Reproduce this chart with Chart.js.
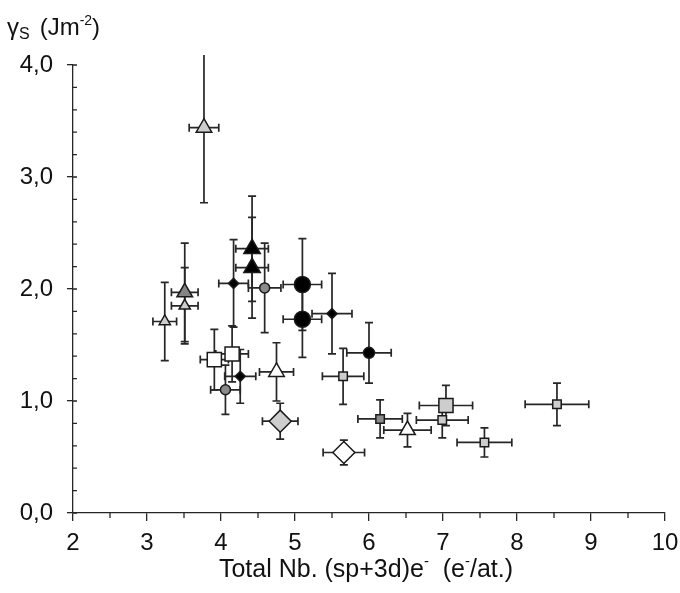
<!DOCTYPE html>
<html>
<head>
<meta charset="utf-8">
<script src="https://cdn.jsdelivr.net/npm/chart.js@4"></script>
<style>
  html, body { margin: 0; padding: 0; background: #fff; }
</style>
</head>
<body>
<canvas id="myChart" width="680" height="593"></canvas>
<script>
// measured points: x = total nb of (sp+3d) electrons, y = surface energy
const ptX   = [3.77, 3.24, 3.51, 3.51, 4.42, 4.42, 4.17, 5.50, 4.26, 4.59, 4.06, 5.10, 5.10, 6.00, 5.65, 6.99, 7.56, 8.54, 7.04, 6.15, 3.91, 4.15, 4.75, 6.52, 4.80, 5.66];
const ptY   = [3.44, 1.71, 1.85, 1.97, 2.36, 2.19, 2.05, 1.78, 1.22, 2.01, 1.10, 2.04, 1.73, 1.43, 1.22, 0.83, 0.63, 0.97, 0.96, 0.84, 1.37, 1.42, 1.26, 0.74, 0.82, 0.54];
const errX  = [0.20, 0.16, 0.18, 0.18, 0.22, 0.22, 0.20, 0.27, 0.21, 0.22, 0.20, 0.26, 0.26, 0.30, 0.28, 0.35, 0.37, 0.43, 0.36, 0.30, 0.19, 0.22, 0.23, 0.32, 0.24, 0.28];
const errY  = [0.67, 0.35, 0.34, 0.44, 0.47, 0.45, 0.39, 0.36, 0.24, 0.40, 0.22, 0.41, 0.34, 0.27, 0.25, 0.16, 0.13, 0.19, 0.18, 0.17, 0.27, 0.25, 0.26, 0.15, 0.16, 0.11];
const ptGroup = [0, 1, 1, 2, 3, 3, 4, 4, 4, 5, 5, 6, 6, 7, 8, 8, 8, 8, 9, 10, 11, 11, 12, 12, 13, 14];
const groupNames = ['grey triangle (large)', 'grey triangle', 'dark triangle', 'black triangle',
  'black diamond', 'grey circle', 'black circle (large)', 'black circle', 'grey square',
  'grey square (large)', 'dark square', 'white square', 'white triangle', 'grey diamond', 'white diamond'];

// marker look for each group
const markerStyle = [
  { shape: 'triangle', r: 9,   fill: '#cdcdcd' },
  { shape: 'triangle', r: 6.5, fill: '#cdcdcd' },
  { shape: 'triangle', r: 9,   fill: '#858585' },
  { shape: 'triangle', r: 9.5, fill: '#000000' },
  { shape: 'rectRot',  r: 5,   fill: '#000000' },
  { shape: 'circle',   r: 5,   fill: '#8a8a8a' },
  { shape: 'circle',   r: 8,   fill: '#000000' },
  { shape: 'circle',   r: 5.5, fill: '#000000' },
  { shape: 'rect',     r: 6,   fill: '#cdcdcd' },
  { shape: 'rect',     r: 10,  fill: '#cdcdcd' },
  { shape: 'rect',     r: 6,   fill: '#8a8a8a' },
  { shape: 'rect',     r: 10,  fill: '#ffffff' },
  { shape: 'triangle', r: 9,   fill: '#ffffff' },
  { shape: 'rectRot',  r: 11,  fill: '#cdcdcd' },
  { shape: 'rectRot',  r: 11,  fill: '#ffffff' }
];

const FONT = "'Liberation Sans', Arial, sans-serif";
const INK = '#111';
const LINE = '#262626';

let datasets = groupNames.map((name, g) => {
  let pts = [];
  ptGroup.forEach((gg, i) => {
    if (gg === g) pts.push({ x: ptX[i], y: ptY[i], xe: errX[i], ye: errY[i] });
  });
  let st = markerStyle[g];
  return {
    label: name,
    data: pts,
    pointStyle: st.shape,
    pointRadius: st.r,
    pointHoverRadius: st.r,
    backgroundColor: st.fill,
    borderColor: '#1a1a1a',
    borderWidth: 1.5,
    showLine: false
  };
});

const errorBars = {
  id: 'errorBars',
  beforeDatasetsDraw(chart) {
    const { ctx, chartArea, scales: { x, y } } = chart;
    const cap = 4;
    ctx.save();
    ctx.beginPath();
    ctx.rect(0, chartArea.top - 10, chart.width, chart.height);
    ctx.clip();
    ctx.strokeStyle = LINE;
    ctx.lineWidth = 1.7;
    chart.data.datasets.forEach(ds => {
      ds.data.forEach(p => {
        let px = x.getPixelForValue(p.x), py = y.getPixelForValue(p.y);
        let x0 = x.getPixelForValue(p.x - p.xe), x1 = x.getPixelForValue(p.x + p.xe);
        let y0 = y.getPixelForValue(p.y - p.ye), y1 = y.getPixelForValue(p.y + p.ye);
        ctx.beginPath();
        ctx.moveTo(x0, py); ctx.lineTo(x1, py);
        ctx.moveTo(x0, py - cap); ctx.lineTo(x0, py + cap);
        ctx.moveTo(x1, py - cap); ctx.lineTo(x1, py + cap);
        ctx.moveTo(px, y0); ctx.lineTo(px, y1);
        ctx.moveTo(px - cap, y0); ctx.lineTo(px + cap, y0);
        ctx.moveTo(px - cap, y1); ctx.lineTo(px + cap, y1);
        ctx.stroke();
      });
    });
    ctx.restore();
  }
};

// minor ticks, inner half of y major ticks, and the two axis titles
const axisExtras = {
  id: 'axisExtras',
  afterDraw(chart) {
    const { ctx, chartArea: a, scales: { x, y } } = chart;
    ctx.save();
    ctx.strokeStyle = LINE;
    ctx.lineWidth = 1.3;
    ctx.beginPath();
    for (let v = 2.5; v < 10; v += 1) {
      let px = x.getPixelForValue(v);
      ctx.moveTo(px, a.bottom); ctx.lineTo(px, a.bottom + 5);
    }
    for (let k = 0; k <= 20; k++) {
      let py = y.getPixelForValue(k * 0.2);
      ctx.moveTo(a.left, py); ctx.lineTo(a.left + 4, py);
    }
    ctx.stroke();

    ctx.fillStyle = INK;
    ctx.textBaseline = 'alphabetic';
    ctx.textAlign = 'left';
    // y title: γS (Jm-2)
    let cx = 7;
    ctx.font = '24px ' + FONT;
    ctx.fillText('γ', cx, 35); cx += ctx.measureText('γ').width;
    ctx.font = '16px ' + FONT;
    ctx.fillText('S', cx, 39); cx += ctx.measureText('S').width + 10;
    ctx.font = '24px ' + FONT;
    ctx.fillText('(Jm', cx, 35); cx += ctx.measureText('(Jm').width;
    ctx.font = '14px ' + FONT;
    ctx.fillText('-2', cx, 25); cx += ctx.measureText('-2').width;
    ctx.font = '24px ' + FONT;
    ctx.fillText(')', cx, 35);

    // x title: Total Nb. (sp+3d)e-  (e-/at.)
    let parts = [['Total Nb. (sp+3d)e', false], ['-', true], ['  (e', false], ['-', true], ['/at.)', false]];
    let w = 0;
    parts.forEach(p => { ctx.font = (p[1] ? '15px ' : '25px ') + FONT; w += ctx.measureText(p[0]).width; });
    cx = 366 - w / 2;
    parts.forEach(p => {
      ctx.font = (p[1] ? '15px ' : '25px ') + FONT;
      ctx.fillText(p[0], cx, p[1] ? 566 : 577);
      cx += ctx.measureText(p[0]).width;
    });
    ctx.restore();
  }
};

let ctx = document.getElementById('myChart').getContext('2d');
let myChart = new Chart(ctx, {
  type: 'scatter',
  data: { datasets: datasets },
  options: {
    responsive: false,
    animation: false,
    layout: { padding: { top: 65, right: 15, left: 0, bottom: 0 } },
    plugins: { legend: { display: false }, tooltip: { enabled: false } },
    scales: {
      x: {
        type: 'linear', min: 2, max: 10,
        afterFit: s => { s.height = 80; s.paddingRight = 0; s.paddingLeft = 0; },
        ticks: { stepSize: 1, padding: 8, color: INK, font: { family: FONT, size: 24 } },
        grid: { drawOnChartArea: false, tickLength: 8, color: LINE, lineWidth: 1.3 },
        border: { color: LINE, width: 1.3 }
      },
      y: {
        type: 'linear', min: 0, max: 4,
        afterFit: s => { s.width = 73; },
        ticks: {
          stepSize: 1, padding: 14, color: INK, font: { family: FONT, size: 24 },
          callback: v => v.toFixed(1).replace('.', ',')
        },
        grid: { drawOnChartArea: false, tickLength: 6, color: LINE, lineWidth: 1.3 },
        border: { color: LINE, width: 1.3 }
      }
    }
  },
  plugins: [errorBars, axisExtras]
});
</script>
</body>
</html>
